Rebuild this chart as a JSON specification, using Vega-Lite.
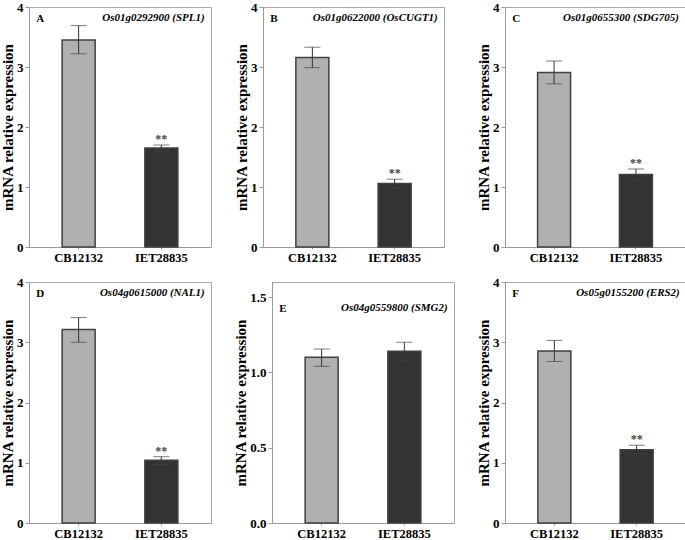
{
  "$schema": "https://vega.github.io/schema/vega-lite/v6.json",
  "padding": {"left": 0, "top": 0, "right": 0, "bottom": 0},
  "background": "white",
  "config": {
    "font": "Liberation Serif",
    "view": {"stroke": "#a8a8a8", "strokeWidth": 1},
    "axis": {"grid": false, "domainColor": "#999999", "tickColor": "#999999", "labelFont": "Liberation Serif", "labelFontWeight": "bold", "labelColor": "#000000", "titleFont": "Liberation Serif", "titleFontWeight": "bold", "titleColor": "#000000"},
    "axisY": {"labelFontSize": 13, "tickSize": 4, "labelPadding": 2, "titleFontSize": 15, "titlePadding": 1},
    "axisX": {"labelFontSize": 12.5, "tickSize": 2, "labelPadding": 2, "labelAngle": 0},
    "concat": {"spacing": 11}
  },
  "data": {"values": [
    {"panel": "A", "letter": "A", "gene": "Os01g0292900 (SPL1)", "ymax": 4, "genotype": "CB12132", "value": 3.45, "lo": 3.22, "hi": 3.69, "sig": ""},
    {"panel": "A", "letter": "A", "gene": "Os01g0292900 (SPL1)", "ymax": 4, "genotype": "IET28835", "value": 1.65, "lo": 1.6, "hi": 1.7, "sig": "**"},
    {"panel": "B", "letter": "B", "gene": "Os01g0622000 (OsCUGT1)", "ymax": 4, "genotype": "CB12132", "value": 3.16, "lo": 2.99, "hi": 3.33, "sig": ""},
    {"panel": "B", "letter": "B", "gene": "Os01g0622000 (OsCUGT1)", "ymax": 4, "genotype": "IET28835", "value": 1.06, "lo": 0.99, "hi": 1.13, "sig": "**"},
    {"panel": "C", "letter": "C", "gene": "Os01g0655300 (SDG705)", "ymax": 4, "genotype": "CB12132", "value": 2.91, "lo": 2.72, "hi": 3.1, "sig": ""},
    {"panel": "C", "letter": "C", "gene": "Os01g0655300 (SDG705)", "ymax": 4, "genotype": "IET28835", "value": 1.21, "lo": 1.12, "hi": 1.3, "sig": "**"},
    {"panel": "D", "letter": "D", "gene": "Os04g0615000 (NAL1)", "ymax": 4, "genotype": "CB12132", "value": 3.21, "lo": 3.0, "hi": 3.41, "sig": ""},
    {"panel": "D", "letter": "D", "gene": "Os04g0615000 (NAL1)", "ymax": 4, "genotype": "IET28835", "value": 1.04, "lo": 0.97, "hi": 1.1, "sig": "**"},
    {"panel": "E", "letter": "E", "gene": "Os04g0559800 (SMG2)", "ymax": 1.5, "genotype": "CB12132", "value": 1.1, "lo": 1.04, "hi": 1.155, "sig": ""},
    {"panel": "E", "letter": "E", "gene": "Os04g0559800 (SMG2)", "ymax": 1.5, "genotype": "IET28835", "value": 1.14, "lo": 1.077, "hi": 1.2, "sig": ""},
    {"panel": "F", "letter": "F", "gene": "Os05g0155200 (ERS2)", "ymax": 4, "genotype": "CB12132", "value": 2.855, "lo": 2.68, "hi": 3.03, "sig": ""},
    {"panel": "F", "letter": "F", "gene": "Os05g0155200 (ERS2)", "ymax": 4, "genotype": "IET28835", "value": 1.217, "lo": 1.145, "hi": 1.29, "sig": "**"}
  ]},
  "vconcat": [
    {"hconcat": [
      {"hconcat": [
        {"width": 182, "height": 240, "transform": [{"filter": "datum.panel == 'A'"}],
         "encoding": {"x": {"field": "genotype", "type": "nominal", "sort": ["CB12132", "IET28835"], "scale": {"paddingInner": 0, "paddingOuter": 0.1}, "title": null}},
         "layer": [
          {"mark": {"type": "bar", "width": 33, "stroke": "#404040", "strokeWidth": 1.5}, "encoding": {"y": {"field": "value", "type": "quantitative", "scale": {"domain": [0, 4]}, "axis": {"values": [0, 1, 2, 3, 4], "format": "d"}, "title": "mRNA relative expression"}, "fill": {"field": "genotype", "type": "nominal", "scale": {"domain": ["CB12132", "IET28835"], "range": ["#b0b0b0", "#333333"]}, "legend": null}}},
          {"mark": {"type": "rule", "color": "#333333", "strokeWidth": 1}, "encoding": {"y": {"field": "lo", "type": "quantitative"}, "y2": {"field": "hi"}}},
          {"mark": {"type": "tick", "color": "#444444", "size": 16, "thickness": 1}, "encoding": {"y": {"field": "lo", "type": "quantitative"}}},
          {"mark": {"type": "tick", "color": "#444444", "size": 16, "thickness": 1}, "encoding": {"y": {"field": "hi", "type": "quantitative"}}},
          {"mark": {"type": "text", "baseline": "bottom", "fontSize": 12, "fontWeight": "bold", "fill": "#444444", "dy": 1}, "encoding": {"y": {"field": "hi", "type": "quantitative"}, "text": {"field": "sig"}}},
          {"transform": [{"filter": "datum.genotype == 'CB12132'"}], "mark": {"type": "text", "align": "left", "baseline": "top", "fontSize": 11, "fontWeight": "bold", "fill": "#000000", "dy": 6, "dx": -1}, "encoding": {"x": {"field": "genotype", "type": "nominal", "bandPosition": 0}, "y": {"field": "ymax", "type": "quantitative"}, "text": {"field": "letter"}}},
          {"transform": [{"filter": "datum.genotype == 'IET28835'"}], "mark": {"type": "text", "align": "right", "baseline": "top", "fontSize": 11, "fontWeight": "bold", "fontStyle": "italic", "fill": "#000000", "dy": 5, "dx": 2}, "encoding": {"x": {"field": "genotype", "type": "nominal", "bandPosition": 1}, "y": {"field": "ymax", "type": "quantitative"}, "text": {"field": "gene"}}}
         ]},
        {"width": 181, "height": 240, "transform": [{"filter": "datum.panel == 'B'"}],
         "encoding": {"x": {"field": "genotype", "type": "nominal", "sort": ["CB12132", "IET28835"], "scale": {"paddingInner": 0, "paddingOuter": 0.1}, "title": null}},
         "layer": [
          {"mark": {"type": "bar", "width": 33, "stroke": "#404040", "strokeWidth": 1.5}, "encoding": {"y": {"field": "value", "type": "quantitative", "scale": {"domain": [0, 4]}, "axis": {"values": [0, 1, 2, 3, 4], "format": "d"}, "title": "mRNA relative expression"}, "fill": {"field": "genotype", "type": "nominal", "scale": {"domain": ["CB12132", "IET28835"], "range": ["#b0b0b0", "#333333"]}, "legend": null}}},
          {"mark": {"type": "rule", "color": "#333333", "strokeWidth": 1}, "encoding": {"y": {"field": "lo", "type": "quantitative"}, "y2": {"field": "hi"}}},
          {"mark": {"type": "tick", "color": "#444444", "size": 16, "thickness": 1}, "encoding": {"y": {"field": "lo", "type": "quantitative"}}},
          {"mark": {"type": "tick", "color": "#444444", "size": 16, "thickness": 1}, "encoding": {"y": {"field": "hi", "type": "quantitative"}}},
          {"mark": {"type": "text", "baseline": "bottom", "fontSize": 12, "fontWeight": "bold", "fill": "#444444", "dy": 1}, "encoding": {"y": {"field": "hi", "type": "quantitative"}, "text": {"field": "sig"}}},
          {"transform": [{"filter": "datum.genotype == 'CB12132'"}], "mark": {"type": "text", "align": "left", "baseline": "top", "fontSize": 11, "fontWeight": "bold", "fill": "#000000", "dy": 6, "dx": -1}, "encoding": {"x": {"field": "genotype", "type": "nominal", "bandPosition": 0}, "y": {"field": "ymax", "type": "quantitative"}, "text": {"field": "letter"}}},
          {"transform": [{"filter": "datum.genotype == 'IET28835'"}], "mark": {"type": "text", "align": "right", "baseline": "top", "fontSize": 11, "fontWeight": "bold", "fontStyle": "italic", "fill": "#000000", "dy": 5, "dx": 2}, "encoding": {"x": {"field": "genotype", "type": "nominal", "bandPosition": 1}, "y": {"field": "ymax", "type": "quantitative"}, "text": {"field": "gene"}}}
         ]}
      ], "spacing": 22},
      {"width": 180, "height": 240, "transform": [{"filter": "datum.panel == 'C'"}],
       "encoding": {"x": {"field": "genotype", "type": "nominal", "sort": ["CB12132", "IET28835"], "scale": {"paddingInner": 0, "paddingOuter": 0.1}, "title": null}},
       "layer": [
        {"mark": {"type": "bar", "width": 33, "stroke": "#404040", "strokeWidth": 1.5}, "encoding": {"y": {"field": "value", "type": "quantitative", "scale": {"domain": [0, 4]}, "axis": {"values": [0, 1, 2, 3, 4], "format": "d"}, "title": "mRNA relative expression"}, "fill": {"field": "genotype", "type": "nominal", "scale": {"domain": ["CB12132", "IET28835"], "range": ["#b0b0b0", "#333333"]}, "legend": null}}},
        {"mark": {"type": "rule", "color": "#333333", "strokeWidth": 1}, "encoding": {"y": {"field": "lo", "type": "quantitative"}, "y2": {"field": "hi"}}},
        {"mark": {"type": "tick", "color": "#444444", "size": 16, "thickness": 1}, "encoding": {"y": {"field": "lo", "type": "quantitative"}}},
        {"mark": {"type": "tick", "color": "#444444", "size": 16, "thickness": 1}, "encoding": {"y": {"field": "hi", "type": "quantitative"}}},
        {"mark": {"type": "text", "baseline": "bottom", "fontSize": 12, "fontWeight": "bold", "fill": "#444444", "dy": 1}, "encoding": {"y": {"field": "hi", "type": "quantitative"}, "text": {"field": "sig"}}},
        {"transform": [{"filter": "datum.genotype == 'CB12132'"}], "mark": {"type": "text", "align": "left", "baseline": "top", "fontSize": 11, "fontWeight": "bold", "fill": "#000000", "dy": 6, "dx": -1}, "encoding": {"x": {"field": "genotype", "type": "nominal", "bandPosition": 0}, "y": {"field": "ymax", "type": "quantitative"}, "text": {"field": "letter"}}},
        {"transform": [{"filter": "datum.genotype == 'IET28835'"}], "mark": {"type": "text", "align": "right", "baseline": "top", "fontSize": 11, "fontWeight": "bold", "fontStyle": "italic", "fill": "#000000", "dy": 5, "dx": 2}, "encoding": {"x": {"field": "genotype", "type": "nominal", "bandPosition": 1}, "y": {"field": "ymax", "type": "quantitative"}, "text": {"field": "gene"}}}
       ]}
    ], "spacing": 31},
    {"hconcat": [
      {"hconcat": [
        {"width": 182, "height": 241, "transform": [{"filter": "datum.panel == 'D'"}],
         "encoding": {"x": {"field": "genotype", "type": "nominal", "sort": ["CB12132", "IET28835"], "scale": {"paddingInner": 0, "paddingOuter": 0.1}, "title": null}},
         "layer": [
          {"mark": {"type": "bar", "width": 33, "stroke": "#404040", "strokeWidth": 1.5}, "encoding": {"y": {"field": "value", "type": "quantitative", "scale": {"domain": [0, 4]}, "axis": {"values": [0, 1, 2, 3, 4], "format": "d"}, "title": "mRNA relative expression"}, "fill": {"field": "genotype", "type": "nominal", "scale": {"domain": ["CB12132", "IET28835"], "range": ["#b0b0b0", "#333333"]}, "legend": null}}},
          {"mark": {"type": "rule", "color": "#333333", "strokeWidth": 1}, "encoding": {"y": {"field": "lo", "type": "quantitative"}, "y2": {"field": "hi"}}},
          {"mark": {"type": "tick", "color": "#444444", "size": 16, "thickness": 1}, "encoding": {"y": {"field": "lo", "type": "quantitative"}}},
          {"mark": {"type": "tick", "color": "#444444", "size": 16, "thickness": 1}, "encoding": {"y": {"field": "hi", "type": "quantitative"}}},
          {"mark": {"type": "text", "baseline": "bottom", "fontSize": 12, "fontWeight": "bold", "fill": "#444444", "dy": 1}, "encoding": {"y": {"field": "hi", "type": "quantitative"}, "text": {"field": "sig"}}},
          {"transform": [{"filter": "datum.genotype == 'CB12132'"}], "mark": {"type": "text", "align": "left", "baseline": "top", "fontSize": 11, "fontWeight": "bold", "fill": "#000000", "dy": 6, "dx": -1}, "encoding": {"x": {"field": "genotype", "type": "nominal", "bandPosition": 0}, "y": {"field": "ymax", "type": "quantitative"}, "text": {"field": "letter"}}},
          {"transform": [{"filter": "datum.genotype == 'IET28835'"}], "mark": {"type": "text", "align": "right", "baseline": "top", "fontSize": 11, "fontWeight": "bold", "fontStyle": "italic", "fill": "#000000", "dy": 5, "dx": 2}, "encoding": {"x": {"field": "genotype", "type": "nominal", "bandPosition": 1}, "y": {"field": "ymax", "type": "quantitative"}, "text": {"field": "gene"}}}
         ]},
        {"width": 182, "height": 241, "transform": [{"filter": "datum.panel == 'E'"}],
         "encoding": {"x": {"field": "genotype", "type": "nominal", "sort": ["CB12132", "IET28835"], "scale": {"paddingInner": 0, "paddingOuter": 0.1}, "title": null}},
         "layer": [
          {"mark": {"type": "bar", "width": 33, "stroke": "#404040", "strokeWidth": 1.5}, "encoding": {"y": {"field": "value", "type": "quantitative", "scale": {"domain": [0, 1.5]}, "axis": {"values": [0, 0.5, 1, 1.5], "format": ".1f"}, "title": "mRNA relative expression"}, "fill": {"field": "genotype", "type": "nominal", "scale": {"domain": ["CB12132", "IET28835"], "range": ["#b0b0b0", "#333333"]}, "legend": null}}},
          {"mark": {"type": "rule", "color": "#333333", "strokeWidth": 1}, "encoding": {"y": {"field": "lo", "type": "quantitative"}, "y2": {"field": "hi"}}},
          {"mark": {"type": "tick", "color": "#444444", "size": 16, "thickness": 1}, "encoding": {"y": {"field": "lo", "type": "quantitative"}}},
          {"mark": {"type": "tick", "color": "#444444", "size": 16, "thickness": 1}, "encoding": {"y": {"field": "hi", "type": "quantitative"}}},
          {"mark": {"type": "text", "baseline": "bottom", "fontSize": 12, "fontWeight": "bold", "fill": "#444444", "dy": 1}, "encoding": {"y": {"field": "hi", "type": "quantitative"}, "text": {"field": "sig"}}},
          {"transform": [{"filter": "datum.genotype == 'CB12132'"}], "mark": {"type": "text", "align": "left", "baseline": "top", "fontSize": 11, "fontWeight": "bold", "fill": "#000000", "dy": 6, "dx": -1}, "encoding": {"x": {"field": "genotype", "type": "nominal", "bandPosition": 0}, "y": {"field": "ymax", "type": "quantitative"}, "text": {"field": "letter"}}},
          {"transform": [{"filter": "datum.genotype == 'IET28835'"}], "mark": {"type": "text", "align": "right", "baseline": "top", "fontSize": 11, "fontWeight": "bold", "fontStyle": "italic", "fill": "#000000", "dy": 5, "dx": 2}, "encoding": {"x": {"field": "genotype", "type": "nominal", "bandPosition": 1}, "y": {"field": "ymax", "type": "quantitative"}, "text": {"field": "gene"}}}
         ]}
      ], "spacing": 21},
      {"width": 181, "height": 241, "transform": [{"filter": "datum.panel == 'F'"}],
       "encoding": {"x": {"field": "genotype", "type": "nominal", "sort": ["CB12132", "IET28835"], "scale": {"paddingInner": 0, "paddingOuter": 0.1}, "title": null}},
       "layer": [
        {"mark": {"type": "bar", "width": 33, "stroke": "#404040", "strokeWidth": 1.5}, "encoding": {"y": {"field": "value", "type": "quantitative", "scale": {"domain": [0, 4]}, "axis": {"values": [0, 1, 2, 3, 4], "format": "d"}, "title": "mRNA relative expression"}, "fill": {"field": "genotype", "type": "nominal", "scale": {"domain": ["CB12132", "IET28835"], "range": ["#b0b0b0", "#333333"]}, "legend": null}}},
        {"mark": {"type": "rule", "color": "#333333", "strokeWidth": 1}, "encoding": {"y": {"field": "lo", "type": "quantitative"}, "y2": {"field": "hi"}}},
        {"mark": {"type": "tick", "color": "#444444", "size": 16, "thickness": 1}, "encoding": {"y": {"field": "lo", "type": "quantitative"}}},
        {"mark": {"type": "tick", "color": "#444444", "size": 16, "thickness": 1}, "encoding": {"y": {"field": "hi", "type": "quantitative"}}},
        {"mark": {"type": "text", "baseline": "bottom", "fontSize": 12, "fontWeight": "bold", "fill": "#444444", "dy": 1}, "encoding": {"y": {"field": "hi", "type": "quantitative"}, "text": {"field": "sig"}}},
        {"transform": [{"filter": "datum.genotype == 'CB12132'"}], "mark": {"type": "text", "align": "left", "baseline": "top", "fontSize": 11, "fontWeight": "bold", "fill": "#000000", "dy": 6, "dx": -1}, "encoding": {"x": {"field": "genotype", "type": "nominal", "bandPosition": 0}, "y": {"field": "ymax", "type": "quantitative"}, "text": {"field": "letter"}}},
        {"transform": [{"filter": "datum.genotype == 'IET28835'"}], "mark": {"type": "text", "align": "right", "baseline": "top", "fontSize": 11, "fontWeight": "bold", "fontStyle": "italic", "fill": "#000000", "dy": 5, "dx": 2}, "encoding": {"x": {"field": "genotype", "type": "nominal", "bandPosition": 1}, "y": {"field": "ymax", "type": "quantitative"}, "text": {"field": "gene"}}}
       ]}
    ], "spacing": 21}
  ]
}
